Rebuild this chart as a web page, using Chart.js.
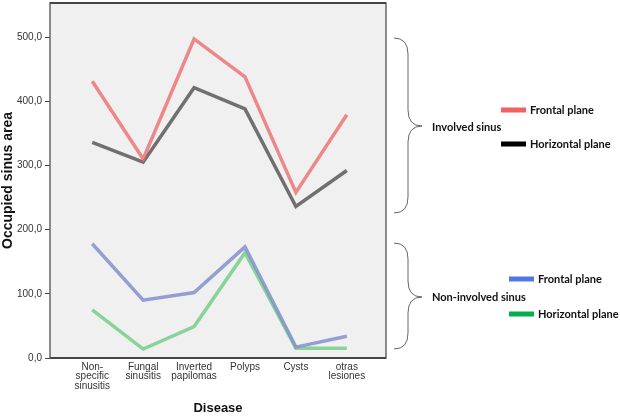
<!DOCTYPE html>
<html>
<head>
<meta charset="utf-8">
<script src="https://cdn.jsdelivr.net/npm/chart.js@4"></script>
<style>
  html, body { margin: 0; padding: 0; background: #fff; }
  #wrap { width: 620px; height: 416px; position: relative; }
</style>
</head>
<body>
<div id="wrap"><canvas id="chartCanvas" width="620" height="416"></canvas></div>
<script>
const categories = [['Non-', 'specific', 'sinusitis'], ['Fungal', 'sinusitis'], ['Inverted', 'papilomas'], ['Polyps'], ['Cysts'], ['otras', 'lesiones']];
const involvedFrontal = [431, 310, 497, 438, 258, 379];
const involvedHorizontal = [336, 305, 421, 388, 236, 292];
const nonInvolvedFrontal = [178, 90, 102, 173, 17, 34];
const nonInvolvedHorizontal = [75, 14, 49, 164, 15, 15];
const yTicks = [0, 100, 200, 300, 400, 500];

const toPoints = arr => arr.map((v, i) => ({ x: i, y: v }));

// plot background, frame and the bracket legend on the right
const decor = {
  id: 'decor',
  beforeDraw(chart) {
    const { ctx, chartArea: a } = chart;
    ctx.save();
    ctx.fillStyle = '#f0f0f0';
    ctx.fillRect(a.left, a.top, a.right - a.left, a.bottom - a.top);
    ctx.restore();
  },
  afterDraw(chart) {
    const { ctx, chartArea: a } = chart;
    ctx.save();
    ctx.strokeStyle = '#666';
    ctx.lineWidth = 1.5;
    ctx.strokeRect(a.left, a.top, a.right - a.left, a.bottom - a.top);
    ctx.strokeStyle = '#444';
    ctx.lineWidth = 2;
    ctx.beginPath();
    ctx.moveTo(a.left, a.top); ctx.lineTo(a.right, a.top);
    ctx.moveTo(a.left, a.bottom); ctx.lineTo(a.right, a.bottom);
    ctx.stroke();

    function brace(x0, y0, y1, ym, w, r) {
      const xm = x0 + w / 2;
      ctx.beginPath();
      ctx.moveTo(x0, y0);
      ctx.quadraticCurveTo(xm, y0, xm, y0 + r);
      ctx.lineTo(xm, ym - r);
      ctx.quadraticCurveTo(xm, ym, x0 + w, ym);
      ctx.quadraticCurveTo(xm, ym, xm, ym + r);
      ctx.lineTo(xm, y1 - r);
      ctx.quadraticCurveTo(xm, y1, x0, y1);
      ctx.stroke();
    }
    ctx.strokeStyle = '#666';
    ctx.lineWidth = 1;
    brace(394, 38, 213, 126, 28, 16);
    brace(394, 243, 349, 297, 28, 16);

    ctx.font = 'bold 11px Lato';
    ctx.fillStyle = '#111';
    ctx.textBaseline = 'middle';
    ctx.fillText('Involved sinus', 432, 127);
    ctx.fillText('Non-involved sinus', 432, 297);

    const items = [
      ['#f26060', 'Frontal plane', 501, 110],
      ['#000000', 'Horizontal plane', 501, 144],
      ['#5077e8', 'Frontal plane', 509, 279],
      ['#00b050', 'Horizontal plane', 509, 314]
    ];
    items.forEach(([c, t, x, y]) => {
      ctx.fillStyle = c;
      ctx.fillRect(x, y - 2.5, 25, 5);
      ctx.fillStyle = '#111';
      ctx.fillText(t, x + 29, y);
    });
    ctx.restore();
  }
};

const lineStyle = { fill: false, borderWidth: 3.5, pointRadius: 0, tension: 0 };

new Chart(document.getElementById('chartCanvas'), {
  type: 'line',
  data: {
    datasets: [
      { ...lineStyle, label: 'Involved frontal', data: toPoints(involvedFrontal), borderColor: 'rgba(236,110,110,0.8)' },
      { ...lineStyle, label: 'Involved horizontal', data: toPoints(involvedHorizontal), borderColor: 'rgba(80,80,80,0.8)' },
      { ...lineStyle, label: 'Non-involved frontal', data: toPoints(nonInvolvedFrontal), borderColor: 'rgba(130,145,205,0.85)' },
      { ...lineStyle, label: 'Non-involved horizontal', data: toPoints(nonInvolvedHorizontal), borderColor: 'rgba(110,205,130,0.8)' }
    ]
  },
  options: {
    responsive: false,
    animation: false,
    layout: { padding: { top: 3, right: 234, left: 0, bottom: 0 } },
    plugins: { legend: { display: false }, tooltip: { enabled: false } },
    scales: {
      x: {
        type: 'linear',
        min: -0.83,
        max: 5.77,
        afterBuildTicks: axis => { axis.ticks = categories.map((c, i) => ({ value: i })); },
        afterFit: axis => { axis.height = 58; axis.paddingLeft = 0; axis.paddingRight = 0; },
        grid: { display: false, drawTicks: false },
        border: { display: false },
        ticks: {
          autoSkip: false,
          maxRotation: 0,
          padding: 4,
          color: '#333',
          font: { family: 'Liberation Sans', size: 10, lineHeight: 0.95 },
          callback: v => categories[v]
        },
        title: {
          display: true,
          text: 'Disease',
          color: '#111',
          font: { family: 'Liberation Sans', size: 13, weight: 'bold' },
          padding: { top: 8, bottom: 0 }
        }
      },
      y: {
        min: 0,
        max: 553,
        afterBuildTicks: axis => { axis.ticks = yTicks.map(v => ({ value: v })); },
        afterFit: axis => { axis.width = 50; axis.paddingTop = 0; axis.paddingBottom = 0; },
        grid: { drawOnChartArea: false, tickLength: 5, color: '#444' },
        border: { display: false },
        ticks: {
          padding: 3,
          color: '#333',
          font: { family: 'Liberation Sans', size: 10 },
          callback: v => v.toFixed(1).replace('.', ',')
        },
        title: {
          display: true,
          text: 'Occupied sinus area',
          color: '#111',
          font: { family: 'Liberation Sans', size: 14, weight: 'bold' },
          padding: { top: 0, bottom: 0 }
        }
      }
    }
  },
  plugins: [decor]
});
</script>
</body>
</html>
